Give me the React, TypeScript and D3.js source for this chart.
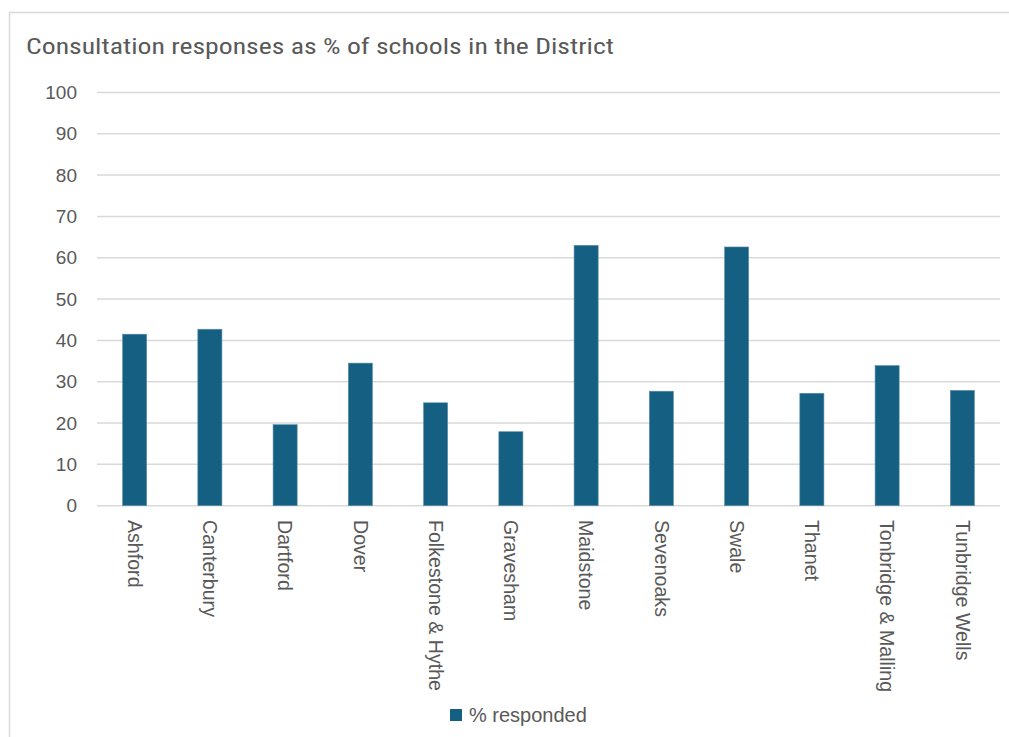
import React from "react";
import * as d3 from "d3";

const categories = [
  "Ashford",
  "Canterbury",
  "Dartford",
  "Dover",
  "Folkestone & Hythe",
  "Gravesham",
  "Maidstone",
  "Sevenoaks",
  "Swale",
  "Thanet",
  "Tonbridge & Malling",
  "Tunbridge Wells",
];
const responded = [41.5, 42.7, 19.6, 34.5, 24.9, 17.9, 63.0, 27.7, 62.6, 27.2, 33.9, 27.9];
const yTicks = [0, 10, 20, 30, 40, 50, 60, 70, 80, 90, 100];
const seriesName = "% responded";
const chartTitle = "Consultation responses as % of schools in the District";

const W = 1009;
const H = 737;
const plotLeft = 97;
const plotRight = 1000;
const plotTop = 92.4;
const plotBottom = 505.7;
const barColor = "#156082";
const textColor = "#595959";
const gridColor = "#d9d9d9";
const font = "'Liberation Sans', Arial, sans-serif";

export default function App() {
  const x = d3.scaleBand<string>().domain(categories).range([plotLeft, plotRight]).paddingInner(0.68).paddingOuter(0.34);
  const y = d3.scaleLinear().domain([0, 100]).range([plotBottom, plotTop]);

  return (
    <svg
      width={W}
      height={H}
      style={{ position: "fixed", left: 0, top: 0, background: "#fff" }}
      fontFamily={font}
    >
      <rect x={0} y={0} width={W} height={H} fill="#fff" />
      <rect x={9.5} y={12.5} width={W + 20} height={H + 20} fill="none" stroke={gridColor} strokeWidth={1.5} />
      <text
        x={26}
        y={54}
        fontSize={22}
        fill={textColor}
        fontFamily="'Liberation Sans Narrow', 'Roboto Condensed', 'Liberation Sans', Arial, sans-serif"
        textLength={588}
        lengthAdjust="spacingAndGlyphs"
      >
        {chartTitle}
      </text>
      {yTicks.map((t) => (
        <g key={t}>
          <line x1={plotLeft} x2={plotRight} y1={y(t)} y2={y(t)} stroke={gridColor} strokeWidth={1.5} />
          <text x={77} y={y(t)} dy="0.35em" textAnchor="end" fontSize={19} fill={textColor}>
            {t}
          </text>
        </g>
      ))}
      {categories.map((c, i) => (
        <rect
          key={c}
          x={x(c)}
          y={y(responded[i])}
          width={x.bandwidth()}
          height={y(0) - y(responded[i])}
          fill={barColor}
          stroke="#5b8fa8"
          strokeWidth={0.6}
        />
      ))}
      {categories.map((c) => (
        <text
          key={c}
          transform={`translate(${(x(c) as number) + x.bandwidth() / 2},520) rotate(90)`}
          dy="0.35em"
          fontSize={19.6}
          fill={textColor}
        >
          {c}
        </text>
      ))}
      <rect x={450} y={709} width={12} height={12} fill={barColor} />
      <text x={469} y={715} dy="0.35em" fontSize={20} fill={textColor}>
        {seriesName}
      </text>
    </svg>
  );
}
